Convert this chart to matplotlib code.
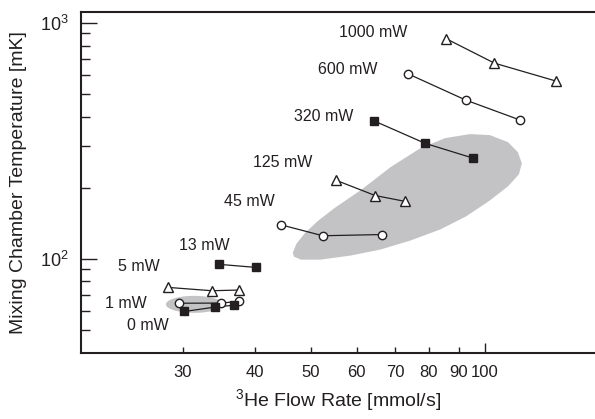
import numpy as np
import matplotlib.pyplot as plt
from matplotlib.ticker import FixedLocator, FixedFormatter, NullFormatter

plt.rcParams['font.family'] = ['Liberation Sans', 'DejaVu Sans']
plt.rcParams['mathtext.fontset'] = 'custom'
plt.rcParams['mathtext.rm'] = 'Liberation Sans'
plt.rcParams['mathtext.it'] = 'Liberation Sans:italic'
plt.rcParams['mathtext.bf'] = 'Liberation Sans:bold'

ink = '#231f20'
shade = '#c3c3c5'

# cooling power curves: flow rate [mmol/s] vs mixing chamber temperature [mK]
powers = ['1000 mW', '600 mW', '320 mW', '125 mW', '45 mW', '13 mW', '5 mW', '1 mW', '0 mW']
markers = ['^', 'o', 's', '^', 'o', 's', '^', 'o', 's']

flow = [
    [85.7, 103.8, 132.6],
    [73.6, 92.6, 114.9],
    [64.2, 78.8, 95.2],
    [55.2, 64.6, 72.6],
    [44.4, 52.4, 66.4],
    [34.6, 40.1],
    [28.3, 33.7, 37.6],
    [29.6, 34.9, 37.6],
    [30.2, 34.1, 36.8],
]
temp = [
    [855, 674, 566],
    [607, 470, 387],
    [384, 308, 267],
    [215, 185, 175],
    [139, 125, 126.5],
    [94.6, 91.8],
    [75.5, 73.1, 73.6],
    [64.7, 64.8, 65.9],
    [59.7, 62.3, 63.5],
]

# where each power label sits (right edge of text)
label_x = [73.3, 65.1, 59.2, 50.3, 43.2, 36.1, 27.4, 26.0, 28.4]
label_y = [913, 631, 400, 256, 174, 114, 92.7, 64.5, 51.9]

# grey operating region outline
region_x = [46.5, 47.2, 48.9, 51.5, 55.1, 60.9, 68.6, 77.3, 85.3, 94.2, 102.0, 109.6,
            114.0, 115.8, 114.5, 109.6, 102.0, 92.7, 83.6, 74.3, 65.9, 58.5, 51.9,
            48.0, 46.7]
region_y = [106.0, 115.8, 129.0, 145.1, 164.8, 194.7, 243.9, 293.8, 324.1, 337.1, 333.8,
            311.6, 282.5, 253.6, 227.8, 202.5, 176.5, 150.9, 132.8, 119.3, 109.2, 103.0,
            99.0, 99.0, 102.0]

# small grey patch around the low power points (centre, half widths in decades)
patch_center = (31.4, 64.0)
patch_half = (0.049, 0.036)

x_ticks = [30, 40, 50, 60, 70, 80, 90, 100]

fig = plt.figure(figsize=(5.95, 4.19), dpi=100)
ax = fig.add_axes([81 / 595, 66.5 / 419, 514 / 595, 340.5 / 419])
ax.set_xscale('log')
ax.set_yscale('log')
ax.set_xlim(20, 155)
ax.set_ylim(40, 1110)

ax.fill(region_x, region_y, color=shade, lw=0, zorder=1)
t = np.linspace(0, 2 * np.pi, 100)
ex = 10 ** (np.log10(patch_center[0]) + patch_half[0] * np.cos(t))
ey = 10 ** (np.log10(patch_center[1]) + patch_half[1] * np.sin(t))
ax.fill(ex, ey, color=shade, lw=0, zorder=1)

for fx, ty, m in zip(flow, temp, markers):
    filled = m == 's'
    ax.plot(fx, ty, color=ink, lw=0.9, zorder=2)
    ax.plot(fx, ty, ls='none', marker=m,
            ms=6.5 if m == '^' else (5.5 if m == 's' else 6),
            mfc=ink if filled else 'white', mec=ink, mew=1.0, zorder=3)

for name, lx, ly in zip(powers, label_x, label_y):
    ax.text(lx, ly, name, ha='right', va='center', fontsize=11.5, color=ink)

ax.xaxis.set_major_locator(FixedLocator(x_ticks))
ax.xaxis.set_major_formatter(FixedFormatter([str(v) for v in x_ticks]))
ax.xaxis.set_minor_locator(FixedLocator([]))
ax.yaxis.set_major_locator(FixedLocator([100, 1000]))
ax.yaxis.set_major_formatter(FixedFormatter([r'$10^2$', r'$10^3$']))
ax.yaxis.set_minor_locator(FixedLocator([50, 60, 70, 80, 90, 200, 300, 400, 500, 600, 700, 800, 900]))
ax.yaxis.set_minor_formatter(NullFormatter())

ax.tick_params(axis='both', which='both', direction='in', color=ink, width=1.0,
               labelsize=12, labelcolor=ink)
ax.tick_params(axis='y', which='major', length=11.5, pad=9, labelsize=13)
ax.tick_params(axis='y', which='minor', length=6.5)
ax.tick_params(axis='x', which='major', length=4.5, pad=9)
ax.xaxis.get_major_ticks()[-1].tick1line.set_markersize(7.5)

ax.spines['right'].set_visible(False)
for s in ['left', 'bottom', 'top']:
    ax.spines[s].set_color(ink)
    ax.spines[s].set_linewidth(1.5)

ax.set_xlabel(r'$^{3}$He Flow Rate [mmol/s]', fontsize=14, color=ink, labelpad=5)
ax.set_ylabel('Mixing Chamber Temperature [mK]', fontsize=14, color=ink, labelpad=9)

fig.savefig('out.png', dpi=100)
